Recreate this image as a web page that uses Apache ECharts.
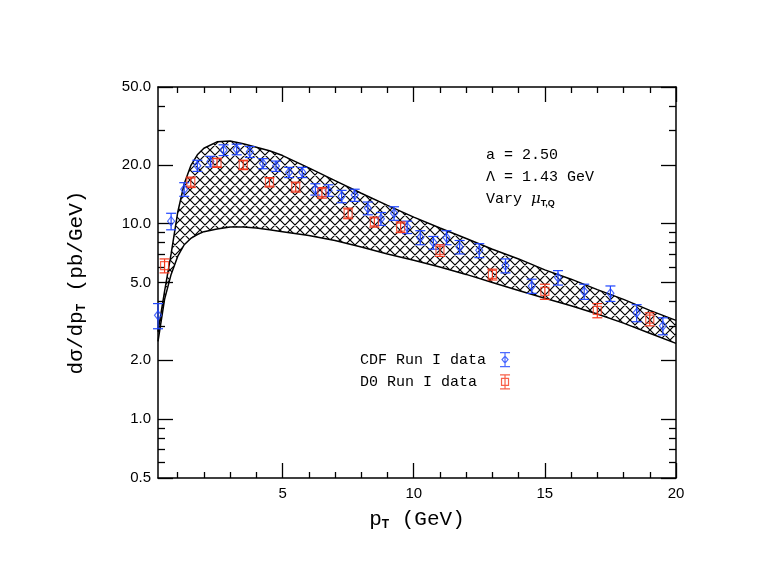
<!DOCTYPE html>
<html>
<head>
<meta charset="utf-8">
<script src="https://cdn.jsdelivr.net/npm/echarts@6/dist/echarts.min.js"></script>
<style>
  html, body { margin: 0; padding: 0; background: #fff; }
  #chart { width: 761px; height: 588px; }
</style>
</head>
<body>
<div id="chart"></div>
<script>
// theory band (vary mu_T,Q)
var bandX = [0.25, 0.5, 0.75, 1, 1.25, 1.5, 1.75, 2, 2.5, 3, 3.5, 4, 4.5, 5, 6, 7, 8, 9, 10, 11, 12, 13, 14, 15, 16, 17, 18, 19, 20];
var bandUpper = [2.8, 4.5, 7.0, 11.4, 16.0, 19.8, 22.5, 24.3, 26.2, 26.5, 25.6, 24.6, 23.6, 22.3, 19.3, 16.6, 14.3, 12.4, 10.8, 9.5, 8.4, 7.4, 6.6, 5.8, 5.2, 4.6, 4.1, 3.6, 3.2];
var bandLower = [2.5, 4.1, 5.5, 6.8, 7.8, 8.4, 8.8, 9.1, 9.4, 9.6, 9.6, 9.5, 9.3, 9.1, 8.7, 8.2, 7.6, 7.0, 6.5, 6.0, 5.5, 5.0, 4.55, 4.15, 3.8, 3.45, 3.1, 2.75, 2.44];

// CDF Run I
var cdfX = [0.25, 0.75, 1.25, 1.75, 2.25, 2.75, 3.25, 3.75, 4.25, 4.75, 5.25, 5.75, 6.25, 6.75, 7.25, 7.75, 8.25, 8.75, 9.25, 9.75, 10.25, 10.75, 11.25, 11.75, 12.5, 13.5, 14.5, 15.5, 16.5, 17.5, 18.5, 19.5];
var cdfY = [3.4, 10.3, 15.0, 19.8, 20.8, 23.8, 24.0, 23.3, 20.3, 19.7, 18.3, 18.3, 15.0, 14.8, 13.8, 14.0, 12.0, 10.6, 11.3, 9.6, 8.5, 8.0, 8.5, 7.6, 7.3, 6.1, 4.8, 5.3, 4.5, 4.4, 3.5, 3.0];
var cdfErr = [0.5, 1.0, 1.2, 1.3, 1.3, 1.5, 1.5, 1.5, 1.2, 1.2, 1.1, 1.1, 1.0, 1.0, 1.0, 1.0, 0.9, 0.8, 0.9, 0.7, 0.7, 0.6, 0.7, 0.6, 0.6, 0.5, 0.4, 0.45, 0.4, 0.4, 0.35, 0.3];

// D0 Run I
var d0X = [0.5, 1.5, 2.5, 3.5, 4.5, 5.5, 6.5, 7.5, 8.5, 9.5, 11, 13, 15, 17, 19];
var d0Y = [6.1, 16.3, 20.5, 20.0, 16.3, 15.4, 14.4, 11.3, 10.2, 9.6, 7.3, 5.5, 4.5, 3.6, 3.25];
var d0Err = [0.5, 1.0, 1.1, 1.1, 0.9, 0.9, 0.9, 0.7, 0.6, 0.6, 0.5, 0.35, 0.4, 0.3, 0.25];

var xMajorTicks = [5, 10, 15, 20];
var xMinorTicks = [1, 2, 3, 4, 6, 7, 8, 9, 11, 12, 13, 14, 16, 17, 18, 19];
var yMajorTicks = [0.5, 1, 2, 5, 10, 20, 50];
var yMinorTicks = [0.6, 0.7, 0.8, 0.9, 3, 4, 6, 7, 8, 9, 30, 40];

var blue = '#1f45ff';
var red = '#f5381c';
var monoFont = 'Liberation Mono';

// crosshatch tile for the band
var tile = 10;
var hatch = document.createElement('canvas');
hatch.width = tile;
hatch.height = tile;
var hctx = hatch.getContext('2d');
hctx.strokeStyle = '#000';
hctx.lineWidth = 1.2;
hctx.beginPath();
for (var k = -1; k <= 1; k++) {
    hctx.moveTo(0, k * tile); hctx.lineTo(tile, tile + k * tile);
    hctx.moveTo(0, tile + k * tile); hctx.lineTo(tile, k * tile);
}
hctx.stroke();

function pairs(xs, ys) {
    var out = [];
    for (var i = 0; i < xs.length; i++) out.push([xs[i], ys[i]]);
    return out;
}
function triples(xs, ys, es) {
    var out = [];
    for (var i = 0; i < xs.length; i++) out.push([xs[i], ys[i], es[i]]);
    return out;
}

function renderBand(params, api) {
    if (params.dataIndex !== 0) return null;
    var pts = [];
    for (var i = 0; i < bandX.length; i++) pts.push(api.coord([bandX[i], bandUpper[i]]));
    for (var j = bandX.length - 1; j >= 0; j--) pts.push(api.coord([bandX[j], bandLower[j]]));
    return {
        type: 'polygon',
        shape: { points: pts },
        style: { fill: { image: hatch, repeat: 'repeat' }, stroke: null }
    };
}

function errRenderer(color) {
    return function (params, api) {
        var x = api.value(0), y = api.value(1), e = api.value(2);
        var top = api.coord([x, y + e]);
        var bot = api.coord([x, y - e]);
        var hw = 5;
        var st = { stroke: color, lineWidth: 1.2 };
        return {
            type: 'group',
            children: [
                { type: 'line', shape: { x1: top[0], y1: top[1], x2: bot[0], y2: bot[1] }, style: st },
                { type: 'line', shape: { x1: top[0] - hw, y1: top[1], x2: top[0] + hw, y2: top[1] }, style: st },
                { type: 'line', shape: { x1: bot[0] - hw, y1: bot[1], x2: bot[0] + hw, y2: bot[1] }, style: st }
            ]
        };
    };
}

function xAxisDef(pos, ticks, len, showLine, showLabel, withName) {
    var a = {
        type: 'value', position: pos, min: 0.25, max: 20,
        axisLine: { show: showLine, onZero: false, lineStyle: { color: '#000', width: 1.5 } },
        axisTick: { show: true, inside: true, length: len, customValues: ticks, lineStyle: { color: '#000', width: 1.3 } },
        axisLabel: { show: showLabel, customValues: ticks, margin: 8, color: '#000', fontFamily: 'Liberation Sans', fontSize: 15 },
        splitLine: { show: false }
    };
    if (withName) {
        a.name = '{a|p}{b|T}{a| (GeV)}';
        a.nameLocation = 'middle';
        a.nameGap = 29;
        a.nameTextStyle = {
            color: '#000',
            rich: {
                a: { fontFamily: monoFont, fontSize: 21, color: '#000' },
                b: { fontFamily: 'Liberation Sans', fontWeight: 'bold', fontSize: 12, color: '#000', padding: [12, 0, 0, 0] }
            }
        };
    }
    return a;
}

function yAxisDef(pos, ticks, len, showLine, showLabel, withName) {
    var a = {
        type: 'log', logBase: 10, position: pos, min: 0.5, max: 50,
        axisLine: { show: showLine, onZero: false, lineStyle: { color: '#000', width: 1.5 } },
        axisTick: { show: true, inside: true, length: len, customValues: ticks, lineStyle: { color: '#000', width: 1.3 } },
        axisLabel: {
            show: showLabel, customValues: ticks, margin: 7, color: '#000', fontFamily: 'Liberation Sans', fontSize: 15,
            formatter: function (v) { return Number(v).toFixed(1); }
        },
        splitLine: { show: false },
        minorSplitLine: { show: false }
    };
    if (withName) {
        a.name = '{a|dσ/dp}{b|T}{a| (pb/GeV)}';
        a.nameLocation = 'middle';
        a.nameGap = 70;
        a.nameRotate = 90;
        a.nameTextStyle = {
            color: '#000',
            rich: {
                a: { fontFamily: monoFont, fontSize: 21, color: '#000' },
                b: { fontFamily: 'Liberation Sans', fontWeight: 'bold', fontSize: 12, color: '#000', padding: [12, 0, 0, 0] }
            }
        };
    }
    return a;
}

var myChart = echarts.init(document.getElementById('chart'));
var option = {
    backgroundColor: '#fff',
    animation: false,
    grid: { left: 158, right: 85, top: 87, bottom: 110 },
    xAxis: [
        xAxisDef('bottom', xMajorTicks, 15, true, true, true),
        xAxisDef('bottom', xMinorTicks, 6, false, false, false),
        xAxisDef('top', xMajorTicks, 15, true, false, false),
        xAxisDef('top', xMinorTicks, 6, false, false, false)
    ],
    yAxis: [
        yAxisDef('left', yMajorTicks, 15, true, true, true),
        yAxisDef('left', yMinorTicks, 7, false, false, false),
        yAxisDef('right', yMajorTicks, 15, true, false, false),
        yAxisDef('right', yMinorTicks, 7, false, false, false)
    ],
    legend: {
        orient: 'vertical',
        left: 355,
        top: 347,
        align: 'right',
        itemGap: 7,
        itemWidth: 10,
        itemHeight: 14,
        selectedMode: false,
        textStyle: { fontFamily: monoFont, fontSize: 15, color: '#000' },
        formatter: function (name) { return name.length < 14 ? name + '  ' : name + ' '; },
        data: [
            {
                name: 'CDF Run I data',
                icon: 'path://M0,0L10,0M5,0L5,3.5L8,7L5,10.5L2,7L5,3.5M5,3.5L5,10.5M5,10.5L5,14M0,14L10,14',
                itemStyle: { color: 'rgba(0,0,0,0)', borderColor: blue, borderWidth: 1.2 }
            },
            {
                name: 'D0 Run I data',
                icon: 'path://M0,0L10,0M5,0L5,14M0,14L10,14M1.5,3.5L8.5,3.5L8.5,10.5L1.5,10.5Z',
                itemStyle: { color: 'rgba(0,0,0,0)', borderColor: red, borderWidth: 1.2 }
            }
        ]
    },
    graphic: [
        {
            type: 'text', left: 486, top: 148, silent: true,
            style: { text: 'a = 2.50', fontFamily: monoFont, fontSize: 15, fill: '#000' }
        },
        {
            type: 'text', left: 486, top: 170, silent: true,
            style: { text: 'Λ = 1.43 GeV', fontFamily: monoFont, fontSize: 15, fill: '#000' }
        },
        {
            type: 'text', left: 486, top: 192, silent: true,
            style: {
                text: '{a|Vary }{m|μ}{b|T,Q}',
                rich: {
                    a: { fontFamily: monoFont, fontSize: 15, fill: '#000' },
                    m: { fontFamily: 'DejaVu Serif', fontStyle: 'italic', fontSize: 15, fill: '#000' },
                    b: { fontFamily: 'Liberation Sans', fontWeight: 'bold', fontSize: 9, fill: '#000', padding: [8, 0, 0, 0] }
                }
            }
        }
    ],
    series: [
        {
            name: 'band',
            type: 'custom',
            silent: true,
            clip: true,
            z: 1,
            data: pairs(bandX, bandUpper),
            encode: { x: 0, y: 1 },
            renderItem: renderBand
        },
        {
            name: 'upper',
            type: 'line',
            silent: true,
            symbol: 'none',
            z: 2,
            data: pairs(bandX, bandUpper),
            lineStyle: { color: '#000', width: 1.5 }
        },
        {
            name: 'lower',
            type: 'line',
            silent: true,
            symbol: 'none',
            z: 2,
            data: pairs(bandX, bandLower),
            lineStyle: { color: '#000', width: 1.5 }
        },
        {
            name: 'CDF err',
            type: 'custom',
            silent: true,
            z: 3,
            data: triples(cdfX, cdfY, cdfErr),
            encode: { x: 0, y: 1 },
            renderItem: errRenderer(blue)
        },
        {
            name: 'D0 err',
            type: 'custom',
            silent: true,
            z: 3,
            data: triples(d0X, d0Y, d0Err),
            encode: { x: 0, y: 1 },
            renderItem: errRenderer(red)
        },
        {
            name: 'CDF Run I data',
            type: 'scatter',
            z: 4,
            symbol: 'diamond',
            symbolSize: [7, 9],
            data: pairs(cdfX, cdfY),
            itemStyle: { color: 'rgba(0,0,0,0)', borderColor: blue, borderWidth: 1.2 }
        },
        {
            name: 'D0 Run I data',
            type: 'scatter',
            z: 4,
            symbol: 'rect',
            symbolSize: [8, 8],
            data: pairs(d0X, d0Y),
            itemStyle: { color: 'rgba(0,0,0,0)', borderColor: red, borderWidth: 1.2 }
        }
    ]
};
myChart.setOption(option);
</script>
</body>
</html>
